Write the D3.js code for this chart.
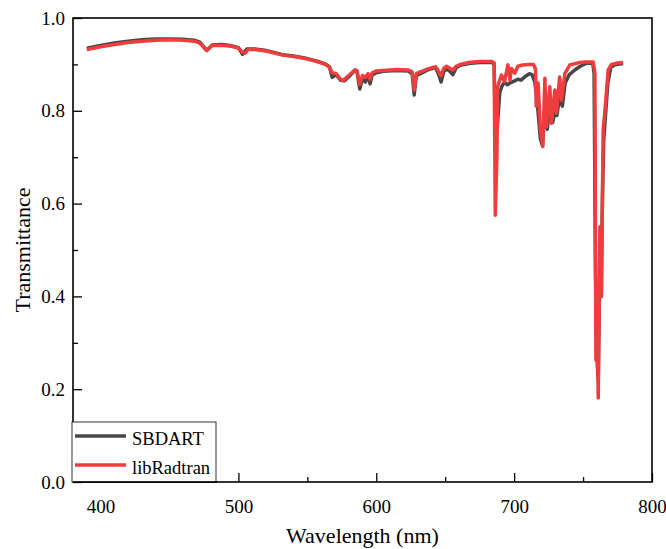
<!DOCTYPE html>
<html>
<head>
<meta charset="utf-8">
<script src="https://cdn.jsdelivr.net/npm/d3@7"></script>
<style>
  html, body { margin: 0; padding: 0; background: #fff; }
  svg { display: block; font-family: "Liberation Serif", "Times New Roman", serif; }
</style>
</head>
<body>
<script>
(function () {
  'use strict';

  var xTicks = [400, 500, 600, 700, 800],
    xMinorTicks = [450, 550, 650, 750],
    yTicks = [0, 0.2, 0.4, 0.6, 0.8, 1.0],
    yMinorTicks = [0.1, 0.3, 0.5, 0.7, 0.9],
    seriesNames = ['SBDART', 'libRadtran'];

  var sbdartWl = [390, 400, 410, 420, 430, 440, 450, 460, 468, 472, 477, 481, 488, 495, 500, 503, 506, 512, 520, 532, 540, 548, 557, 563, 566, 568, 571, 574, 577, 581, 584.5, 586, 588, 590, 592, 594, 595.5, 597, 600, 605, 615, 623, 626, 627.5, 629, 632, 638, 643, 645, 647, 649, 651, 653, 655.5, 658, 661, 667, 675, 684, 685.5, 686.5, 688, 689.6, 691, 693, 695, 697, 700, 702.7, 705, 708, 711, 713, 715, 717, 719, 720.5, 722, 724, 726, 728, 729.5, 731, 733, 735, 737, 740, 744, 748, 752, 757, 758, 759, 760, 761, 762, 763, 764, 765, 766.5, 768, 770, 773, 779];
  var sbdartT = [0.935, 0.941, 0.946, 0.950, 0.953, 0.955, 0.955, 0.954, 0.952, 0.948, 0.930, 0.942, 0.943, 0.940, 0.936, 0.922, 0.933, 0.933, 0.930, 0.921, 0.918, 0.914, 0.907, 0.901, 0.895, 0.872, 0.878, 0.866, 0.865, 0.876, 0.888, 0.885, 0.847, 0.870, 0.862, 0.875, 0.858, 0.877, 0.882, 0.885, 0.887, 0.886, 0.880, 0.834, 0.876, 0.880, 0.889, 0.893, 0.880, 0.862, 0.885, 0.890, 0.886, 0.878, 0.893, 0.898, 0.902, 0.904, 0.904, 0.900, 0.740, 0.775, 0.840, 0.852, 0.862, 0.856, 0.860, 0.864, 0.868, 0.866, 0.874, 0.880, 0.878, 0.862, 0.810, 0.740, 0.725, 0.800, 0.760, 0.810, 0.775, 0.798, 0.790, 0.830, 0.810, 0.860, 0.878, 0.888, 0.896, 0.902, 0.903, 0.880, 0.450, 0.270, 0.220, 0.450, 0.400, 0.600, 0.740, 0.800, 0.860, 0.893, 0.899, 0.902];

  var libWl = [390, 400, 410, 420, 430, 440, 450, 460, 468, 472, 477, 481, 488, 495, 500, 503, 505, 507, 512, 520, 532, 540, 548, 557, 563, 566, 568, 571, 574, 576, 580, 584.5, 586, 588, 590, 592, 594, 595.5, 597, 600, 605, 615, 623, 626, 627.5, 629, 632, 638, 643, 645, 647, 649, 651, 653, 655.5, 658, 661, 667, 675, 684, 685.5, 686.3, 687.5, 688, 690.8, 693, 695.5, 697, 698, 700.5, 702.7, 705, 710, 714, 715.5, 716, 717.4, 719, 720.8, 722.3, 723.5, 725.9, 727, 729.5, 730.7, 733, 734.4, 736.8, 740.4, 747.7, 752, 757.4, 758.6, 759.3, 760, 761, 762.2, 763.4, 764.1, 764.6, 766.5, 768.2, 770.6, 775, 779];
  var libT = [0.932, 0.938, 0.943, 0.947, 0.950, 0.952, 0.953, 0.952, 0.950, 0.946, 0.930, 0.941, 0.941, 0.939, 0.935, 0.926, 0.924, 0.932, 0.932, 0.929, 0.920, 0.917, 0.913, 0.906, 0.900, 0.894, 0.882, 0.880, 0.868, 0.865, 0.876, 0.888, 0.886, 0.857, 0.876, 0.872, 0.880, 0.868, 0.882, 0.886, 0.887, 0.889, 0.888, 0.884, 0.845, 0.880, 0.884, 0.891, 0.895, 0.886, 0.875, 0.892, 0.896, 0.892, 0.888, 0.896, 0.900, 0.904, 0.906, 0.906, 0.903, 0.575, 0.700, 0.852, 0.877, 0.863, 0.899, 0.866, 0.891, 0.881, 0.896, 0.898, 0.900, 0.900, 0.890, 0.810, 0.860, 0.760, 0.723, 0.870, 0.766, 0.852, 0.773, 0.845, 0.795, 0.873, 0.823, 0.880, 0.899, 0.904, 0.905, 0.905, 0.880, 0.263, 0.400, 0.181, 0.550, 0.400, 0.636, 0.759, 0.823, 0.888, 0.900, 0.903, 0.904];

  var width = 666,
    height = 549,
    left = 73,
    right = 652,
    top = 18,
    bottom = 482,
    colors = ['#474747', '#ef3d3d'],
    svgEl,
    x,
    y;

  init();

  function init() {
    svgEl = d3.select('body')
      .append('svg')
      .attr('width', width)
      .attr('height', height);

    x = d3.scaleLinear().domain([380, 800]).range([left, right]);
    y = d3.scaleLinear().domain([0, 1]).range([bottom, top]);

    drawLines();
    drawAxes();
    drawLegend();
    drawTitles();
  }

  function toPoints(wl, t) {
    return wl.map(function (d, i) {
      return [d, t[i]];
    });
  }

  function drawLines() {
    var line = d3.line()
      .x(function (d) { return x(d[0]); })
      .y(function (d) { return y(d[1]); });

    svgEl.append('path')
      .datum(toPoints(sbdartWl, sbdartT))
      .attr('d', line)
      .attr('fill', 'none')
      .attr('stroke', colors[0])
      .attr('stroke-width', 3.5)
      .attr('stroke-linejoin', 'round');

    svgEl.append('path')
      .datum(toPoints(libWl, libT))
      .attr('d', line)
      .attr('fill', 'none')
      .attr('stroke', colors[1])
      .attr('stroke-width', 3.5)
      .attr('stroke-linejoin', 'round');
  }

  function drawAxes() {
    svgEl.append('g')
      .attr('transform', 'translate(0,' + bottom + ')')
      .call(d3.axisBottom(x).tickValues(xTicks).tickSize(-9).tickPadding(18));

    svgEl.append('g')
      .attr('transform', 'translate(0,' + bottom + ')')
      .call(d3.axisBottom(x).tickValues(xMinorTicks).tickSize(-5).tickFormat(''));

    svgEl.append('g')
      .attr('transform', 'translate(' + left + ',0)')
      .call(d3.axisLeft(y).tickValues(yTicks).tickSize(-9).tickPadding(8).tickFormat(d3.format('.1f')));

    svgEl.append('g')
      .attr('transform', 'translate(' + left + ',0)')
      .call(d3.axisLeft(y).tickValues(yMinorTicks).tickSize(-5).tickFormat(''));

    svgEl.selectAll('.domain').remove();
    svgEl.selectAll('.tick line')
      .attr('stroke', '#000')
      .attr('stroke-width', 1.3);
    svgEl.selectAll('.tick text')
      .attr('fill', '#000')
      .style('font-size', '19px')
      .style('font-family', '"Liberation Serif", serif');

    svgEl.append('rect')
      .attr('x', left)
      .attr('y', top)
      .attr('width', right - left)
      .attr('height', bottom - top)
      .attr('fill', 'none')
      .attr('stroke', '#000')
      .attr('stroke-width', 1.6);
  }

  function drawLegend() {
    var g = svgEl.append('g');

    g.append('rect')
      .attr('x', left - 1)
      .attr('y', 422)
      .attr('width', 144)
      .attr('height', bottom - 422)
      .attr('fill', '#fff')
      .attr('stroke', '#333')
      .attr('stroke-width', 1);

    seriesNames.forEach(function (name, i) {
      var ly = 436 + i * 29;
      g.append('line')
        .attr('x1', 75)
        .attr('x2', 126)
        .attr('y1', ly)
        .attr('y2', ly)
        .attr('stroke', colors[i])
        .attr('stroke-width', 3.5);
      g.append('text')
        .attr('x', 132)
        .attr('y', ly + 9)
        .attr('font-size', '18.5px')
        .attr('fill', '#000')
        .text(name);
    });

    // keep the frame's bottom edge above the legend box
    g.append('line')
      .attr('x1', left)
      .attr('x2', left + 144)
      .attr('y1', bottom)
      .attr('y2', bottom)
      .attr('stroke', '#000')
      .attr('stroke-width', 1.6);
  }

  function drawTitles() {
    svgEl.append('text')
      .attr('x', (left + right) / 2)
      .attr('y', 543)
      .attr('text-anchor', 'middle')
      .attr('font-size', '22px')
      .attr('fill', '#000')
      .text('Wavelength (nm)');

    svgEl.append('text')
      .attr('transform', 'translate(30,250) rotate(-90)')
      .attr('text-anchor', 'middle')
      .attr('font-size', '22px')
      .attr('fill', '#000')
      .text('Transmittance');
  }
}());
</script>
</body>
</html>
